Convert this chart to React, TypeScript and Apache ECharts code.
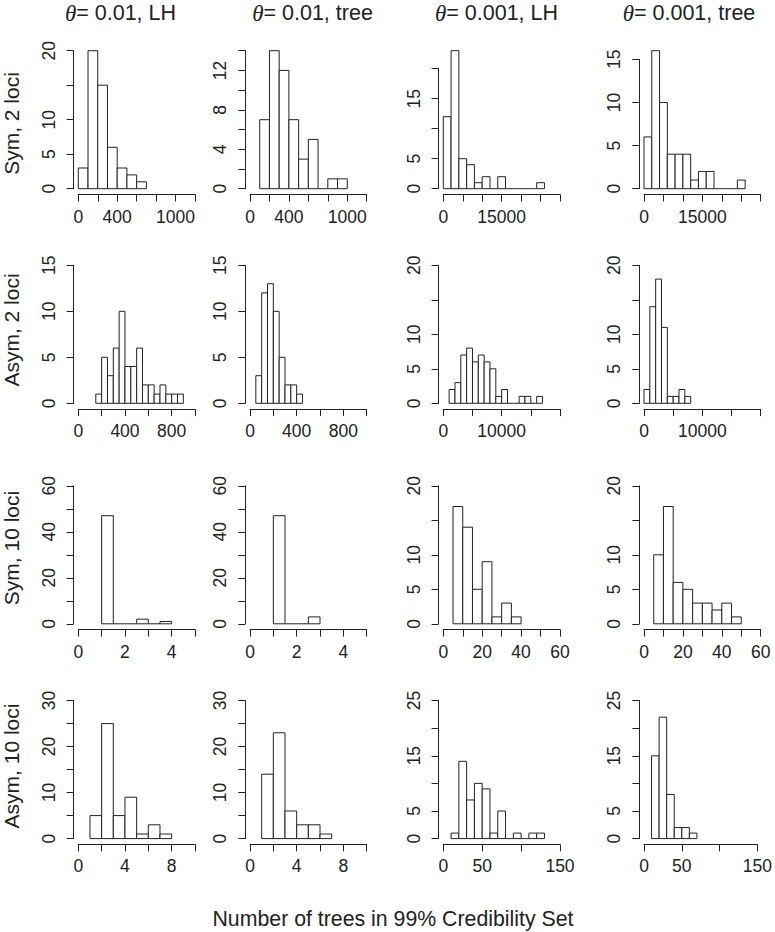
import React, { useEffect, useRef } from 'react';
import * as echarts from 'echarts';

// ---------- labels ----------
const colTitles = ['0.01, LH', '0.01, tree', '0.001, LH', '0.001, tree'];
const rowTitles = ['Sym, 2 loci', 'Asym, 2 loci', 'Sym, 10 loci', 'Asym, 10 loci'];
const bottomTitle = 'Number of trees in 99% Credibility Set';

// ---------- histogram counts (row = scenario, col = setting) ----------
// Sym, 2 loci
const sym2_lh01 = [3, 20, 15, 6, 3, 2, 1];
const sym2_tree01 = [7, 14, 12, 7, 3, 5, 0, 1, 1];
const sym2_lh001 = [12, 23, 5, 4, 1, 2, 0, 2, 0, 0, 0, 0, 1];
const sym2_tree001 = [6, 16, 10, 4, 4, 4, 1, 2, 2, 0, 0, 0, 1];
// Asym, 2 loci
const asym2_lh01 = [1, 5, 3, 6, 10, 4, 4, 6, 2, 2, 1, 2, 1, 1, 1];
const asym2_tree01 = [3, 12, 13, 10, 5, 2, 2, 1];
const asym2_lh001 = [2, 3, 7, 8, 6, 7, 6, 5, 1, 2, 0, 0, 1, 1, 0, 1];
const asym2_tree001 = [2, 14, 18, 11, 1, 1, 2, 1];
// Sym, 10 loci
const sym10_lh01 = [47, 0, 0, 2, 0, 1];
const sym10_tree01 = [47, 0, 0, 3];
const sym10_lh001 = [17, 14, 5, 9, 1, 3, 1];
const sym10_tree001 = [10, 17, 6, 5, 3, 3, 2, 3, 1];
// Asym, 10 loci
const asym10_lh01 = [5, 25, 5, 9, 1, 3, 1];
const asym10_tree01 = [14, 23, 6, 3, 3, 1];
const asym10_lh001 = [1, 14, 7, 10, 9, 1, 5, 0, 1, 0, 1, 1];
const asym10_tree001 = [15, 22, 8, 2, 2, 1];

const counts = [
  [sym2_lh01, sym2_tree01, sym2_lh001, sym2_tree001],
  [asym2_lh01, asym2_tree01, asym2_lh001, asym2_tree001],
  [sym10_lh01, sym10_tree01, sym10_lh001, sym10_tree001],
  [asym10_lh01, asym10_tree01, asym10_lh001, asym10_tree001],
];

// histogram breaks
const binStarts = [
  [0, 100, 0, 0],
  [150, 50, 1000, 0],
  [1, 1, 5, 5],
  [1, 1, 10, 10],
];
const binWidths = [
  [100, 100, 2000, 2000],
  [50, 50, 1000, 1000],
  [0.5, 0.5, 5, 5],
  [1, 1, 10, 10],
];

// x axes
const xMaxes = [
  [1200, 1200, 30000, 30000],
  [1000, 1000, 20000, 20000],
  [5, 5, 60, 60],
  [10, 10, 150, 150],
];
const xSteps = [
  [200, 200, 5000, 5000],
  [200, 200, 5000, 5000],
  [1, 1, 10, 10],
  [2, 2, 50, 50],
];
const xLabels = [
  [[0, 400, 1000], [0, 400, 1000], [0, 15000], [0, 15000]],
  [[0, 400, 800], [0, 400, 800], [0, 10000], [0, 10000]],
  [[0, 2, 4], [0, 2, 4], [0, 20, 40, 60], [0, 20, 40, 60]],
  [[0, 4, 8], [0, 4, 8], [0, 50, 150], [0, 50, 150]],
];

// y axes
const yLims = [
  [20, 14, 23, 16],
  [15, 15, 20, 20],
  [60, 60, 20, 20],
  [30, 30, 25, 25],
];
const yTickMaxes = [
  [20, 14, 20, 15],
  [15, 15, 20, 20],
  [60, 60, 20, 20],
  [30, 30, 25, 25],
];
const ySteps = [
  [5, 2, 5, 5],
  [5, 5, 5, 5],
  [10, 10, 5, 5],
  [5, 5, 5, 5],
];
const yLabels = [
  [[0, 5, 10, 20], [0, 4, 8, 12], [0, 5, 15], [0, 5, 10, 15]],
  [[0, 5, 10, 15], [0, 5, 10, 15], [0, 5, 10, 20], [0, 5, 10, 20]],
  [[0, 20, 40, 60], [0, 20, 40, 60], [0, 5, 10, 20], [0, 5, 10, 20]],
  [[0, 10, 20, 30], [0, 10, 20, 30], [0, 5, 15, 25], [0, 5, 15, 25]],
];

// ---------- layout ----------
const W = 775;
const H = 932;
const colX0 = [78.3, 250, 443.3, 644];
const plotW = 116.7;
const rowZero = [188.7, 403.3, 623.8, 838.6];
const plotH = 138;
const titleX = [120.5, 312.5, 496.5, 689];
const titleY = 13;
const rowLabelX = 11.5;
const rowLabelY = [123.5, 330, 548, 766];
const FONT = '"Liberation Sans", Arial, Helvetica, sans-serif';
const INK = '#222';

function buildOption() {
  const grid: any[] = [];
  const xAxis: any[] = [];
  const yAxis: any[] = [];
  const series: any[] = [];
  const graphic: any[] = [];

  for (let r = 0; r < 4; r++) {
    for (let c = 0; c < 4; c++) {
      const idx = r * 4 + c;
      const frac = yTickMaxes[r][c] / yLims[r][c];
      const gh = plotH * frac;
      grid.push({
        left: colX0[c],
        top: rowZero[r] - gh,
        width: plotW,
        height: gh,
        containLabel: false,
        show: false,
      });
      const xl = xLabels[r][c];
      const yl = yLabels[r][c];
      xAxis.push({
        type: 'value',
        gridIndex: idx,
        min: 0,
        max: xMaxes[r][c],
        interval: xSteps[r][c],
        offset: 5.8,
        axisLine: { show: true, onZero: false, lineStyle: { color: INK, width: 1 } },
        axisTick: { show: true, inside: false, length: 7, lineStyle: { color: INK, width: 1 } },
        splitLine: { show: false },
        axisLabel: {
          show: true,
          margin: 13,
          fontSize: 17.5,
          fontFamily: FONT,
          color: INK,
          hideOverlap: false,
          showMinLabel: true,
          showMaxLabel: true,
          formatter: (v: number) => (xl.indexOf(v) >= 0 ? String(v) : ''),
        },
      });
      yAxis.push({
        type: 'value',
        gridIndex: idx,
        min: 0,
        max: yTickMaxes[r][c],
        interval: ySteps[r][c],
        offset: 4.7,
        axisLine: { show: true, onZero: false, lineStyle: { color: INK, width: 1 } },
        axisTick: { show: true, inside: false, length: 7, lineStyle: { color: INK, width: 1 } },
        splitLine: { show: false },
        axisLabel: {
          show: true,
          rotate: 90,
          margin: 16,
          fontSize: 17.5,
          fontFamily: FONT,
          color: INK,
          hideOverlap: false,
          showMinLabel: true,
          showMaxLabel: true,
          formatter: (v: number) => (yl.indexOf(v) >= 0 ? String(v) : ''),
        },
      });
      const start = binStarts[r][c];
      const bw = binWidths[r][c];
      const data = counts[r][c].map((n, i) => [start + i * bw, start + (i + 1) * bw, n]);
      series.push({
        type: 'custom',
        xAxisIndex: idx,
        yAxisIndex: idx,
        clip: false,
        silent: true,
        encode: { x: [0, 1], y: 2 },
        data,
        renderItem: (params: any, api: any) => {
          const x0 = api.value(0);
          const x1 = api.value(1);
          const n = api.value(2);
          const pTop = api.coord([x0, n]);
          const pBot = api.coord([x1, 0]);
          if (n === 0) {
            return {
              type: 'line',
              shape: { x1: pTop[0], y1: pBot[1], x2: pBot[0], y2: pBot[1] },
              style: { stroke: INK, lineWidth: 1 },
            };
          }
          return {
            type: 'rect',
            shape: { x: pTop[0], y: pTop[1], width: pBot[0] - pTop[0], height: pBot[1] - pTop[1] },
            style: { fill: '#ffffff', stroke: INK, lineWidth: 1 },
          };
        },
      });
    }
  }

  // column titles
  for (let c = 0; c < 4; c++) {
    graphic.push({
      type: 'text',
      x: titleX[c],
      y: titleY,
      style: {
        text: '{th|θ}= ' + colTitles[c],
        fontSize: 21.5,
        fontFamily: FONT,
        fill: INK,
        align: 'center',
        verticalAlign: 'middle',
        rich: {
          th: { fontSize: 23, fontStyle: 'italic', fontFamily: '"Liberation Serif", "DejaVu Serif", serif', fill: INK },
        },
      },
    });
  }
  // row titles
  for (let r = 0; r < 4; r++) {
    graphic.push({
      type: 'text',
      x: rowLabelX,
      y: rowLabelY[r],
      rotation: Math.PI / 2,
      style: {
        text: rowTitles[r],
        fontSize: 21,
        fontFamily: FONT,
        fill: INK,
        align: 'center',
        verticalAlign: 'middle',
      },
    });
  }
  // bottom title
  graphic.push({
    type: 'text',
    x: 393,
    y: 919,
    style: {
      text: bottomTitle,
      fontSize: 21.3,
      fontFamily: FONT,
      fill: INK,
      align: 'center',
      verticalAlign: 'middle',
    },
  });

  return {
    animation: false,
    backgroundColor: '#ffffff',
    grid,
    xAxis,
    yAxis,
    series,
    graphic,
  };
}

export default function App() {
  const ref = useRef<HTMLDivElement>(null);
  useEffect(() => {
    if (!ref.current) return;
    const chart = echarts.init(ref.current, undefined, { renderer: 'svg', width: W, height: H });
    chart.setOption(buildOption());
    return () => chart.dispose();
  }, []);
  return (
    <div
      ref={ref}
      style={{ position: 'absolute', left: 0, top: 0, width: W, height: H, background: '#fff' }}
    />
  );
}
